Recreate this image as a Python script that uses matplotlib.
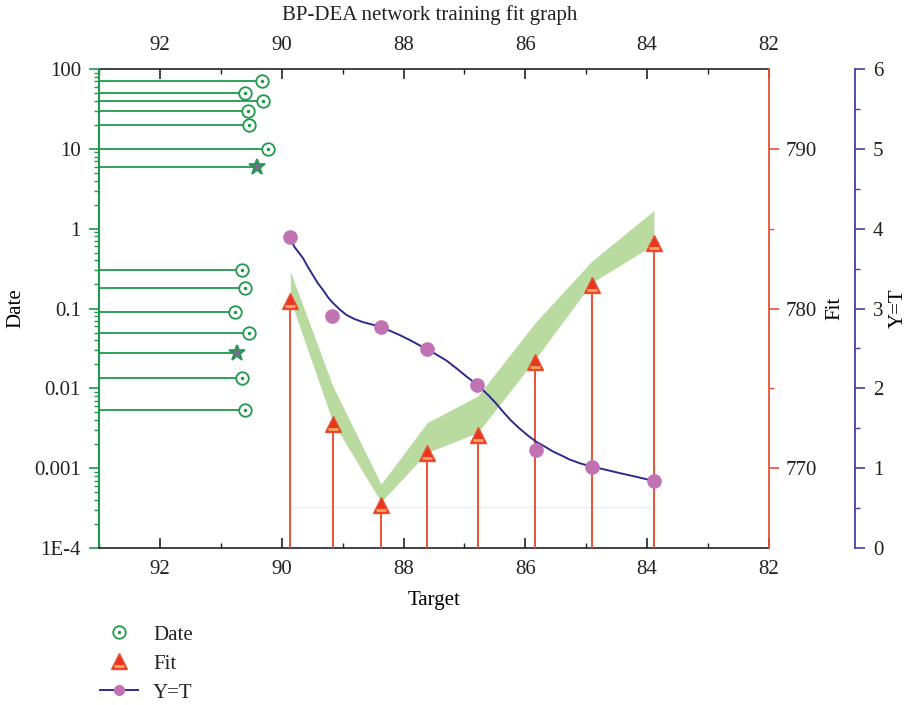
import matplotlib
matplotlib.use("Agg")
import matplotlib.pyplot as plt
from matplotlib.lines import Line2D
from matplotlib.markers import MarkerStyle
from matplotlib.transforms import Affine2D
from matplotlib.ticker import MultipleLocator, FixedLocator, FuncFormatter, LogLocator, NullFormatter

# Date series (left log axis)
date_x = [90.32, 90.60, 90.30, 90.55, 90.54, 90.22, 90.66, 90.60, 90.76, 90.54, 90.66, 90.61]
date_y = [70, 50, 40, 30, 20, 10, 0.3, 0.18, 0.09, 0.05, 0.0136, 0.0054]
star_x = [90.40, 90.73]
star_y = [6, 0.028]

# Fit series (red axis)
fit_x = [89.86, 89.16, 88.37, 87.61, 86.78, 85.84, 84.91, 83.89]
fit_y = [780.46, 772.75, 767.69, 770.98, 772.06, 776.67, 781.5, 784.1]
band_hi = [782.33, 775.14, 769.0, 772.86, 774.52, 779.11, 782.96, 786.14]
band_lo = [780.56, 772.88, 767.88, 770.98, 772.23, 776.81, 781.61, 784.0]
fit_base = 767.54

# Y=T series (blue axis)
yt_x = [89.86, 89.17, 88.37, 87.61, 86.79, 85.83, 84.91, 83.89]
yt_y = [3.89, 2.91, 2.77, 2.49, 2.04, 1.23, 1.02, 0.84]
curve_x = [89.87, 89.83, 89.79, 89.72, 89.65, 89.57, 89.49, 89.41, 89.32, 89.24, 89.16, 89.05,
           88.94, 88.81, 88.67, 88.52, 88.37, 88.22, 88.07, 87.91, 87.74, 87.52, 87.30, 87.13,
           86.97, 86.78, 86.59, 86.48, 86.37, 86.24, 86.10, 85.96, 85.82, 85.68, 85.55, 85.41,
           85.28, 85.10, 84.91, 84.68, 84.46, 84.17, 83.89]
curve_y = [3.89, 3.83, 3.77, 3.70, 3.63, 3.52, 3.42, 3.32, 3.23, 3.14, 3.07, 2.99,
           2.92, 2.87, 2.83, 2.80, 2.77, 2.72, 2.67, 2.61, 2.54, 2.45, 2.35, 2.25,
           2.15, 2.04, 1.90, 1.81, 1.71, 1.60, 1.50, 1.41, 1.33, 1.27, 1.21, 1.16,
           1.11, 1.06, 1.02, 0.98, 0.94, 0.89, 0.84]

x_ticks = [92, 90, 88, 86, 84, 82]
log_ticks = [1e-4, 1e-3, 1e-2, 0.1, 1, 10, 100]
log_labels = ["1E-4", "0.001", "0.01", "0.1", "1", "10", "100"]

GREEN = "#1f9a4c"
RED = "#ea5236"
TRI = "#e8361c"
STRIPE = "#f7a060"
BAND = "#b9dba0"
PURPLE = "#c172b2"
NAVY = "#2e2b8c"
BLUE = "#4040a8"

plt.rcParams["font.family"] = ["Liberation Serif", "DejaVu Serif"]
plt.rcParams["font.size"] = 15
plt.rcParams["text.color"] = "#222222"
plt.rcParams["xtick.color"] = "#222222"
plt.rcParams["ytick.color"] = "#222222"

fig = plt.figure(figsize=(9.11, 7.05), dpi=100)
ax = fig.add_axes([99 / 911, 157 / 705, 670 / 911, 479 / 705])

# ---- Date axis ----
ax.set_yscale("log")
ax.set_ylim(1e-4, 100)
ax.set_xlim(93, 82)
ax.hlines(date_y, 93, date_x, color=GREEN, lw=1.3, zorder=2)
ax.hlines(star_y, 93, star_x, color=GREEN, lw=1.3, zorder=2)
ax.plot(date_x, date_y, ls="none", marker="o", ms=9, mfc="white", mec=GREEN, mew=1.3, zorder=3)
ax.plot(date_x, date_y, ls="none", marker="o", ms=1.5, mfc=GREEN, mec=GREEN, zorder=4)
ax.plot(star_x, star_y, ls="none", marker="*", ms=12, mfc="#7b6b8f", mec=GREEN, mew=1.2, zorder=3)

ax.yaxis.set_major_locator(FixedLocator(log_ticks))
ax.yaxis.set_major_formatter(FuncFormatter(lambda v, p: log_labels[log_ticks.index(min(log_ticks, key=lambda t: abs(t - v)))]))
ax.yaxis.set_minor_locator(LogLocator(base=10, subs=range(2, 10), numticks=20))
ax.yaxis.set_minor_formatter(NullFormatter())
ax.tick_params(axis="y", which="major", direction="out", length=7, width=1.2, color=GREEN, pad=6)
ax.tick_params(axis="y", which="minor", direction="out", length=3.5, width=1.0, color=GREEN)

ax.set_xticks(x_ticks)
ax.xaxis.set_minor_locator(MultipleLocator(1))
ax.tick_params(axis="x", which="major", direction="in", length=7, width=1.2, pad=9, top=False)
ax.tick_params(axis="x", which="minor", direction="in", length=3.5, width=1.0, top=False)

sec = ax.secondary_xaxis("top")
sec.set_xticks(x_ticks)
sec.xaxis.set_minor_locator(MultipleLocator(1))
sec.tick_params(axis="x", which="major", direction="in", length=7, width=1.2, pad=10)
sec.tick_params(axis="x", which="minor", direction="in", length=3.5, width=1.0)
sec.spines["top"].set_color("#222222")
sec.spines["top"].set_linewidth(1.2)

ax.spines["left"].set_color(GREEN)
ax.spines["left"].set_linewidth(1.5)
ax.spines["bottom"].set_color("#222222")
ax.spines["bottom"].set_linewidth(1.2)
ax.spines["top"].set_visible(False)
ax.spines["right"].set_visible(False)

ax.set_xlabel("Target", labelpad=8)
ax.set_ylabel("Date", labelpad=6)
fig.text(430 / 911, 1 - 15 / 705, "BP-DEA network training fit graph", ha="center", va="center", fontsize=15)

# ---- Fit axis ----
axf = ax.twinx()
axf.set_ylim(765, 795)
axf.fill_between(fit_x, band_lo, band_hi, color=BAND, lw=0, zorder=1)
axf.hlines(fit_base, fit_x[0], fit_x[-1], color="#eef2e6", lw=1, zorder=1)
axf.vlines(fit_x, 765, fit_y, color=RED, lw=1.4, zorder=2)
axf.plot(fit_x, fit_y, ls="none", marker="^", ms=11, mfc=TRI, mec=RED, mew=1.0, zorder=3)
stripe = MarkerStyle("_", transform=Affine2D().translate(0, -0.45))
axf.plot(fit_x, fit_y, ls="none", marker=stripe, ms=7.5, mec=STRIPE, mew=2.2, zorder=4)
axf.yaxis.set_major_locator(FixedLocator([770, 780, 790]))
axf.yaxis.set_minor_locator(FixedLocator([775, 785]))
axf.tick_params(axis="y", which="major", direction="out", length=7, width=1.2, color=RED, pad=5)
axf.tick_params(axis="y", which="minor", direction="out", length=3.5, width=1.0, color=RED)
for s in ["left", "top", "bottom"]:
    axf.spines[s].set_visible(False)
axf.spines["right"].set_color(RED)
axf.spines["right"].set_linewidth(1.3)
axf.set_ylabel("Fit", labelpad=6)

# ---- Y=T axis ----
axt = ax.twinx()
axt.set_ylim(0, 6)
axt.spines["right"].set_position(("axes", (855 - 99) / 670))
axt.plot(curve_x, curve_y, color=NAVY, lw=1.4, zorder=2)
axt.plot(yt_x, yt_y, ls="none", marker="o", ms=9.5, mfc=PURPLE, mec=PURPLE, zorder=3)
axt.yaxis.set_major_locator(MultipleLocator(1))
axt.yaxis.set_minor_locator(MultipleLocator(0.5))
axt.tick_params(axis="y", which="major", direction="out", length=7, width=1.2, color=BLUE, pad=6)
axt.tick_params(axis="y", which="minor", direction="out", length=3.5, width=1.0, color=BLUE)
for s in ["left", "top", "bottom"]:
    axt.spines[s].set_visible(False)
axt.spines["right"].set_color(BLUE)
axt.spines["right"].set_linewidth(1.3)
axt.set_ylabel("Y=T", labelpad=4)

# ---- legend ----
h_date = (Line2D([], [], ls="none", marker="o", ms=9, mfc="white", mec=GREEN, mew=1.3),
          Line2D([], [], ls="none", marker="o", ms=1.5, mfc=GREEN, mec=GREEN))
h_fit = (Line2D([], [], ls="none", marker="^", ms=11, mfc=TRI, mec=RED, mew=1.0),
         Line2D([], [], ls="none", marker=stripe, ms=7.5, mec=STRIPE, mew=2.2))
h_yt = Line2D([], [], color=NAVY, lw=1.4, marker="o", ms=7, mfc=PURPLE, mec=PURPLE)
fig.legend([h_date, h_fit, h_yt], ["Date", "Fit", "Y=T"], loc="upper left",
           bbox_to_anchor=(100 / 911, 1 - 625 / 705), frameon=False, borderpad=0,
           borderaxespad=0, handlelength=1.8, handletextpad=0.75, labelspacing=0.45, fontsize=15)

fig.savefig("out.png", dpi=100)
